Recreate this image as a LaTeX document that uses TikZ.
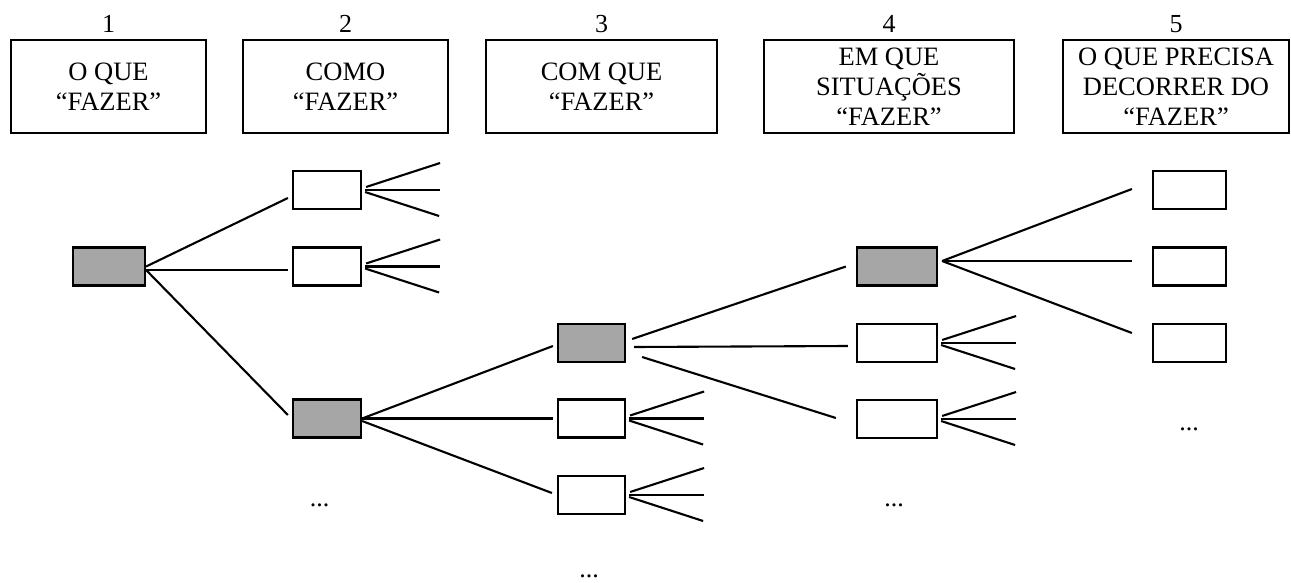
\documentclass[tikz,border=0pt]{standalone}
\usepackage{fontspec}
\setmainfont{Liberation Serif}
\usetikzlibrary{calc}
\begin{document}
\begin{tikzpicture}[x=1pt,y=-1pt,
  hdr/.style={draw,line width=2pt,minimum height=93pt,inner sep=0pt,align=center,font=\fontsize{26.5}{30}\selectfont},
  num/.style={anchor=base,inner sep=0pt,font=\fontsize{26}{30}\selectfont},
  tbox/.style={draw,line width=2.2pt,minimum height=38pt,inner sep=0pt,fill=white},
  gbox/.style={tbox,fill=black!35},
  conn/.style={line width=2.1pt},
  dots/.style={anchor=base,inner sep=0pt,font=\fontsize{26}{30}\selectfont}]
\useasboundingbox (0,0) rectangle (1291,583);

% header
\node[hdr,minimum width=195pt] (h1) at (108.5,86.5) {O QUE\\“FAZER”};
\node[hdr,minimum width=205pt] (h2) at (345.5,86.5) {COMO\\“FAZER”};
\node[hdr,minimum width=231pt] (h3) at (601.5,86.5) {COM QUE\\“FAZER”};
\node[hdr,minimum width=250pt] (h4) at (889,86.5) {EM QUE\\SITUAÇÕES\\“FAZER”};
\node[hdr,minimum width=226pt] (h5) at (1176,86.5) {O QUE PRECISA\\DECORRER DO\\“FAZER”};
\node[num] (n1) at (108.5,33) {1};
\node[num] (n2) at (345.5,33) {2};
\node[num] (n3) at (601.5,33) {3};
\node[num] (n4) at (889,33) {4};
\node[num] (n5) at (1176,33) {5};

% tree boxes
\node[gbox,minimum width=72pt] (A) at (109,266.5) {};
\node[tbox,minimum width=68pt] (B1) at (327,190) {};
\node[tbox,minimum width=68pt] (B2) at (327,266.5) {};
\node[gbox,minimum width=68pt] (B3) at (327,418.5) {};
\node[gbox,minimum width=67pt] (C1) at (591.5,343) {};
\node[tbox,minimum width=67pt] (C2) at (591.5,418.5) {};
\node[tbox,minimum width=67pt] (C3) at (591.5,495) {};
\node[gbox,minimum width=80pt] (D1) at (897,266.5) {};
\node[tbox,minimum width=80pt] (D2) at (897,343) {};
\node[tbox,minimum width=80pt] (D3) at (897,419) {};
\node[tbox,minimum width=73pt] (E1) at (1189.5,190) {};
\node[tbox,minimum width=73pt] (E2) at (1189.5,266.5) {};
\node[tbox,minimum width=73pt] (E3) at (1189.5,343) {};

% dots
\node[dots] (dB) at (319.5,506) {...};
\node[dots] (dC) at (589,577) {...};
\node[dots] (dD) at (894,506) {...};
\node[dots] (dE) at (1189,430) {...};

% main connectors
\draw[conn] (A.east) -- ($(B1.west)+(-4,8)$);
\draw[conn] ($(A.east)+(0,3.5)$) -- ($(B2.west)+(-4,3.5)$);
\draw[conn] ($(A.east)+(0,3.5)$) -- ($(B3.west)+(-4,-3.5)$);
\draw[conn] (B3.east) -- ($(C1.west)+(-4,3)$);
\draw[conn] (B3.east) -- ($(C2.west)+(-4,0)$);
\draw[conn] ($(B3.east)+(0,2.5)$) -- ($(C3.west)+(-5,-2)$);
\draw[conn] ($(C1.east)+(6,-4)$) -- ($(D1.west)+(-10,0)$);
\draw[conn] ($(C1.east)+(8,4)$) -- ($(D2.west)+(-8,3)$);
\draw[conn] ($(C1.east)+(16,14)$) -- ($(D3.west)+(-20,-1)$);
\draw[conn] ($(D1.east)+(4,-5.5)$) -- ($(E1.west)+(-20,-1)$);
\draw[conn] ($(D1.east)+(4,-5.5)$) -- ($(E2.west)+(-20,-5.5)$);
\draw[conn] ($(D1.east)+(4,-5.5)$) -- ($(E3.west)+(-20,-10)$);

% fans with free ends
\foreach \n in {B1,B2,C2,C3,D2,D3} {
  \coordinate (\n-u) at ($(\n.east)+(78,-27)$);
  \coordinate (\n-m) at ($(\n.east)+(78,0)$);
  \coordinate (\n-l) at ($(\n.east)+(77,26)$);
  \draw[conn] ($(\n.east)+(4,-3)$) -- (\n-u);
  \draw[conn] ($(\n.east)+(3,0)$) -- (\n-m);
  \draw[conn] ($(\n.east)+(3,2)$) -- (\n-l);
}
\end{tikzpicture}
\end{document}
